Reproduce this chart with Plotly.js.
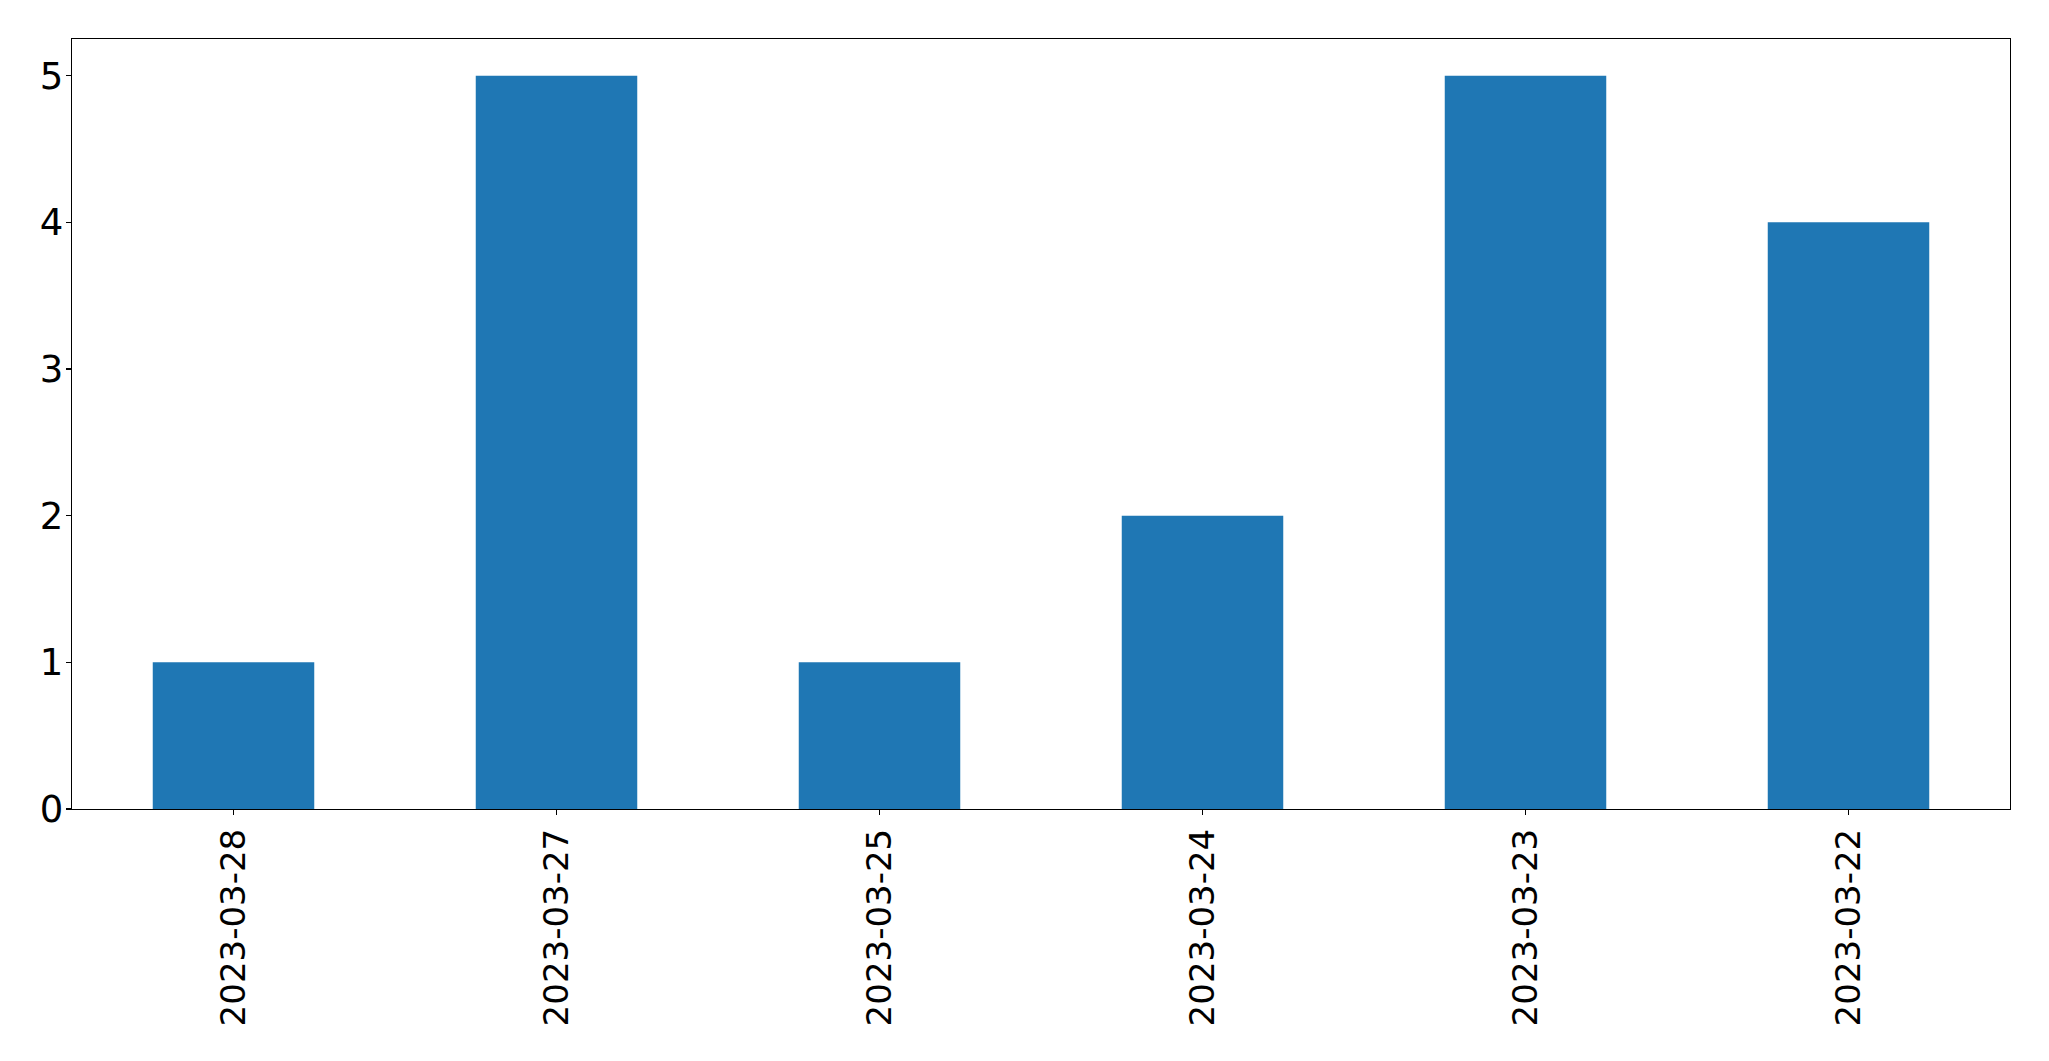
<!DOCTYPE html>
<html>
<head>
<meta charset="utf-8">
<script src="https://cdn.plot.ly/plotly-3.0.1.min.js"></script>
<style>
html, body { margin: 0; padding: 0; background: #fff; }
#chart { width: 2049px; height: 1061px; }
</style>
</head>
<body>
<div id="chart"></div>
<script>
const categories = ["2023-03-28", "2023-03-27", "2023-03-25", "2023-03-24", "2023-03-23", "2023-03-22"];
const counts = [1, 5, 1, 2, 5, 4];
const yTicks = [0, 1, 2, 3, 4, 5];

const trace = {
  type: "bar",
  x: categories,
  y: counts,
  width: 0.5,
  marker: { color: "#1f77b4", line: { width: 0 } },
  hoverinfo: "x+y"
};

const layout = {
  width: 2049,
  height: 1061,
  margin: { l: 72, r: 39, t: 39, b: 252, pad: 0 },
  paper_bgcolor: "#ffffff",
  plot_bgcolor: "#ffffff",
  showlegend: false,
  font: { family: "DejaVu Sans", size: 34, color: "#000000" },
  xaxis: {
    type: "category",
    range: [-0.5, 5.5],
    tickangle: -90,
    ticks: "outside",
    ticklen: 5,
    tickwidth: 1.2,
    tickcolor: "#000000",
    showline: true,
    linecolor: "#000000",
    linewidth: 1.2,
    mirror: true,
    showgrid: false,
    zeroline: false,
    tickfont: { family: "DejaVu Sans", size: 34, color: "#000000" }
  },
  yaxis: {
    range: [0, 5.25],
    tickvals: yTicks,
    ticktext: yTicks.map(String),
    ticks: "outside",
    ticklen: 5,
    tickwidth: 1.2,
    tickcolor: "#000000",
    showline: true,
    linecolor: "#000000",
    linewidth: 1.2,
    mirror: true,
    showgrid: false,
    zeroline: false,
    ticklabelstandoff: -5,
    tickfont: { family: "DejaVu Sans", size: 37, color: "#000000" }
  }
};

Plotly.newPlot("chart", [trace], layout, { displayModeBar: false, staticPlot: true });
</script>
</body>
</html>
